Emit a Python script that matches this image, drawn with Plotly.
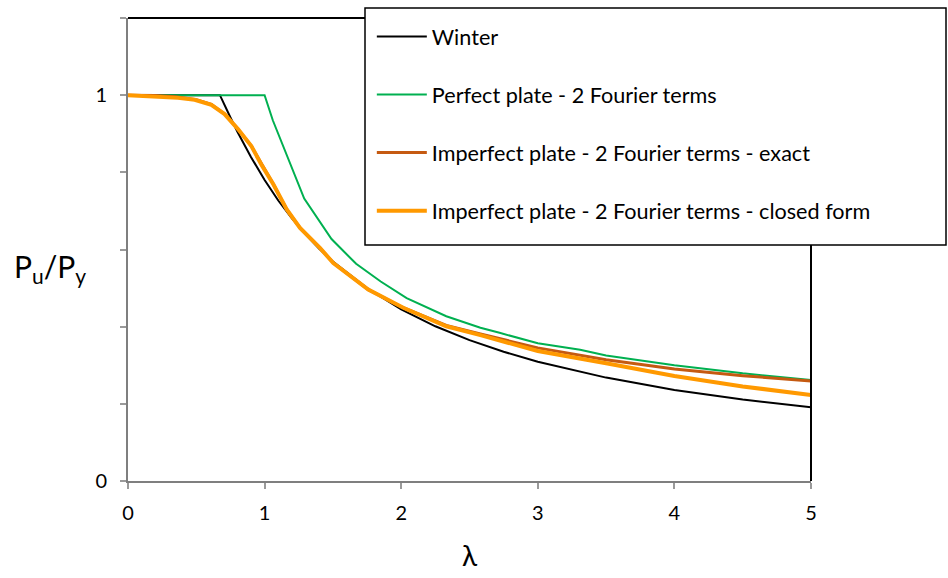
import plotly.graph_objects as go

# ---- data ----
winter_x = [0, 0.673, 0.75, 0.8, 0.9, 1.0, 1.1, 1.2, 1.3, 1.4, 1.5, 1.75, 2.0, 2.25, 2.5, 2.75, 3.0, 3.5, 4.0, 4.5, 5.0]
winter_y = [1.0, 1.0, 0.942, 0.906, 0.840, 0.780, 0.727, 0.681, 0.639, 0.602, 0.569, 0.500, 0.445, 0.401, 0.365, 0.335, 0.309, 0.268, 0.236, 0.211, 0.191]

perfect_x = [0, 1.0, 1.06, 1.29, 1.49, 1.67, 1.85, 2.04, 2.33, 2.58, 2.72, 3.0, 3.31, 3.5, 4.0, 4.5, 5.0]
perfect_y = [1.0, 1.0, 0.935, 0.732, 0.627, 0.563, 0.517, 0.474, 0.427, 0.397, 0.384, 0.357, 0.340, 0.325, 0.300, 0.279, 0.262]

exact_x = [0, 0.2, 0.35, 0.5, 0.61, 0.707, 0.805, 0.903, 1.064, 1.162, 1.259, 1.405, 1.503, 1.759, 2.015, 2.33, 2.58, 3.0, 3.5, 4.0, 4.5, 5.0]
exact_y = [1.0, 0.999, 0.996, 0.988, 0.976, 0.951, 0.912, 0.868, 0.769, 0.704, 0.656, 0.604, 0.565, 0.496, 0.449, 0.403, 0.381, 0.345, 0.314, 0.290, 0.273, 0.259]

closed_x = [0, 0.2, 0.366, 0.488, 0.61, 0.707, 0.805, 0.903, 0.98, 1.064, 1.162, 1.259, 1.405, 1.503, 1.759, 2.015, 2.33, 2.58, 3.0, 3.5, 4.0, 4.5, 5.0]
closed_y = [1.0, 0.997, 0.993, 0.988, 0.975, 0.951, 0.912, 0.868, 0.818, 0.769, 0.704, 0.656, 0.604, 0.565, 0.496, 0.449, 0.401, 0.378, 0.337, 0.305, 0.272, 0.245, 0.223]

names = ["Winter", "Perfect plate - 2 Fourier terms",
         "Imperfect plate - 2 Fourier terms - exact",
         "Imperfect plate - 2 Fourier terms - closed form"]
colors = ["#000000", "#00B050", "#C55A11", "#FF9900"]
widths = [2, 2, 3, 4]

x_ticks = [0, 1, 2, 3, 4, 5]
y_ticks = [0, 0.2, 0.4, 0.6, 0.8, 1.0, 1.2]
y_ticktext = ["0", "", "", "", "", "1", ""]

FONT = "Lato, 'Open Sans', sans-serif"

fig = go.Figure()
for i, (xs, ys) in enumerate([(winter_x, winter_y), (perfect_x, perfect_y),
                              (exact_x, exact_y), (closed_x, closed_y)]):
    fig.add_trace(go.Scatter(x=xs, y=ys, mode="lines", name=names[i],
                             legendgroup=f"g{i}",
                             line=dict(color=colors[i], width=widths[i])))

fig.update_layout(
    width=948, height=578,
    margin=dict(l=128, r=137, t=18, b=97),
    plot_bgcolor="white", paper_bgcolor="white",
    font=dict(family=FONT, size=20, color="#000000"),
    showlegend=True,
    legend=dict(x=0.357, y=1.0045, xanchor="left", yanchor="top",
                bgcolor="rgba(0,0,0,0)", borderwidth=0,
                font=dict(family=FONT, size=21.6, color="#000000"),
                itemwidth=50,
                tracegroupgap=27, traceorder="grouped"),
    xaxis=dict(range=[0, 5], tickvals=x_ticks, ticks="outside", ticklen=6,
               tickcolor="#9a9a9a", tickwidth=1.5, showline=True,
               linecolor="#7f7f7f", linewidth=2, showgrid=False, zeroline=False,
               ticklabelstandoff=7,
               tickfont=dict(family=FONT, size=20)),
    yaxis=dict(range=[0, 1.2], tickvals=y_ticks, ticktext=y_ticktext,
               ticks="outside", ticklen=6, tickcolor="#9a9a9a", tickwidth=1.5,
               showline=True, linecolor="#7f7f7f", linewidth=2,
               showgrid=False, zeroline=False, ticklabelstandoff=9,
               tickfont=dict(family=FONT, size=20)),
)

# black top and right frame lines
fig.add_shape(type="line", xref="paper", yref="paper", x0=0, x1=1, y0=1, y1=1,
              line=dict(color="#000000", width=2), layer="above")
fig.add_shape(type="line", xref="paper", yref="paper", x0=1, x1=1, y0=0, y1=1,
              line=dict(color="#000000", width=2), layer="above")
# legend frame (white box with black border)
fig.add_shape(type="rect", xref="paper", yref="paper",
              x0=(365 - 128) / 683, x1=(946 - 128) / 683,
              y0=(481 - 245) / 463, y1=(481 - 8) / 463,
              fillcolor="white", line=dict(color="#000000", width=1.5),
              layer="above")

# axis titles
fig.add_annotation(text="P<sub>u</sub>/P<sub>y</sub>", xref="paper", yref="paper",
                   x=(50 - 128) / 683, y=(481 - 268) / 463,
                   xanchor="center", yanchor="middle",
                   showarrow=False, font=dict(family=FONT, size=30))
fig.add_annotation(text="λ", xref="paper", yref="paper",
                   x=0.5, y=-0.16, xanchor="center", yanchor="middle",
                   showarrow=False, font=dict(family=FONT, size=28))

fig.write_html("out.html")
